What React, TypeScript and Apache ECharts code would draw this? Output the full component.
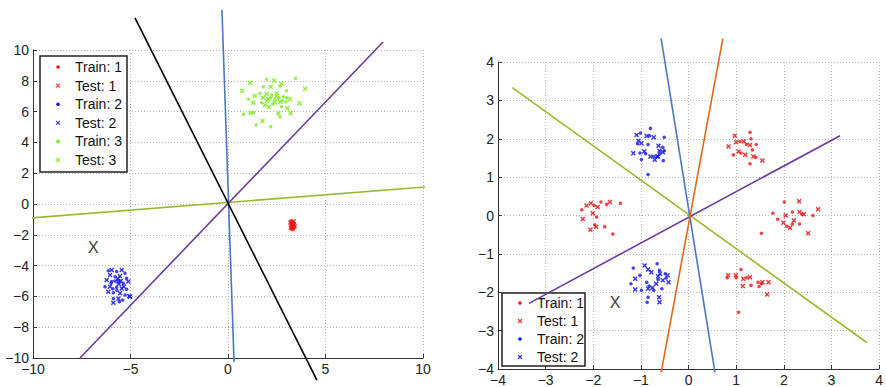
import React, { useEffect, useRef } from "react";
import * as echarts from "echarts";

// ---- colours ----
const RED = "#ee1515";
const BLUE = "#1414ee";
const GREEN = "#7ded1e";
const LINE_BLUE = "#4a78c8";
const LINE_ORANGE = "#e2681c";
const LINE_GREEN = "#9aba2c";
const LINE_PURPLE = "#6a3c9e";

// ---- left panel: three classes ----
const leftTrain1 = [[3.22, -1.1], [3.3, -1.18], [3.38, -1.25], [3.25, -1.32], [3.35, -1.4], [3.28, -1.48], [3.4, -1.55], [3.24, -1.6], [3.33, -1.65]];
const leftTest1 = [[3.2, -1.2], [3.36, -1.12], [3.27, -1.38], [3.42, -1.45], [3.22, -1.52], [3.31, -1.58], [3.38, -1.35], [3.29, -1.27]];

const leftTrain2 = [
  [-6.14, -4.33], [-5.71, -4.39], [-5.28, -4.5], [-5.79, -4.72], [-5.2, -4.83], [-5.97, -5.04], [-5.37, -5.15],
  [-6.31, -5.37], [-5.71, -5.41], [-5.2, -5.54], [-5.88, -5.76], [-5.28, -5.91], [-5.88, -6.13], [-5.4, -6.23],
  [-5.57, -6.34], [-5.8, -5.0], [-5.9, -5.5], [-5.7, -5.6], [-6.0, -5.15],
];
const leftTest2 = [
  [-5.97, -4.29], [-5.45, -4.29], [-6.05, -4.61], [-5.54, -4.68], [-6.22, -4.94], [-5.62, -5.04], [-5.11, -5.04],
  [-6.05, -5.37], [-5.45, -5.48], [-6.14, -5.69], [-5.54, -5.8], [-5.03, -6.02], [-5.62, -6.13], [-5.88, -6.41],
  [-5.06, -5.97], [-5.6, -5.2], [-5.5, -5.0], [-5.35, -5.35], [-5.65, -4.85],
];

const leftTrain3 = [
  [1.98, 8.1], [3.47, 8.16], [1.81, 7.62], [2.67, 7.66], [3.01, 7.36], [1.64, 7.19], [2.24, 7.08], [2.84, 6.97],
  [1.04, 6.82], [1.73, 6.58], [2.41, 6.8], [2.97, 6.64], [0.79, 5.82], [1.3, 5.93], [2.67, 5.67], [1.44, 5.13],
  [2.19, 5.02], [2.75, 6.32], [2.2, 6.9], [2.6, 6.9], [2.8, 6.7], [2.3, 6.5], [3.0, 6.9],
];
const leftTest3 = [
  [1.13, 7.88], [2.36, 8.01], [3.95, 7.47], [0.73, 7.36], [2.19, 7.62], [2.75, 7.79], [1.38, 7.01], [1.98, 7.14],
  [2.5, 7.19], [3.18, 6.8], [1.3, 6.58], [2.07, 6.8], [2.67, 6.64], [3.66, 6.54], [1.16, 5.93], [2.58, 5.89],
  [3.21, 5.89], [1.76, 5.39], [3.04, 6.21], [1.9, 6.43], [2.4, 6.6], [2.0, 6.7], [2.5, 7.0], [1.8, 6.9], [2.1, 6.3],
];

// decision lines through the origin (end points)
const leftLineBlack = [[-4.77, 12.08], [4.56, -11.43]];
const leftLineBlue = [[-0.31, 12.6], [0.31, -10.26]];
const leftLinePurple = [[-7.59, -10.0], [7.95, 10.52]];
const leftLineGreen = [[-10.15, -0.91], [10.72, 1.17]];

const leftQuery = [[-6.9, -2.8]];

// ---- right panel: two classes ----
const rightTrain1 = [
  // upper right
  [1.29, 2.17], [1.31, 2.0], [1.08, 1.93], [1.22, 1.85], [1.42, 1.85], [1.34, 1.71], [1.1, 1.63], [0.94, 1.58], [1.41, 1.52], [1.29, 1.35],
  // left
  [-1.84, 0.35], [-1.43, 0.32], [-1.98, 0.26], [-1.72, 0.29], [-2.24, 0.15], [-1.93, -0.04], [-1.97, -0.24], [-1.76, -0.29], [-1.59, -0.48],
  // right
  [2.01, 0.35], [1.77, 0.06], [2.18, 0.09], [2.38, 0.03], [2.61, 0.0], [1.87, -0.1], [2.06, -0.28], [2.18, -0.22], [2.33, -0.22], [1.53, -0.46],
  // lower right
  [1.1, -1.41], [0.81, -1.62], [1.0, -1.62], [1.22, -1.62], [1.46, -1.74], [1.53, -1.78], [1.48, -1.85], [1.31, -1.82], [1.05, -2.52],
];
const rightTest1 = [
  [0.97, 2.08], [1.0, 1.91], [1.16, 1.93], [1.29, 1.84], [0.84, 1.8], [1.05, 1.67], [1.19, 1.58], [1.36, 1.54], [1.55, 1.43],
  [-1.65, 0.35], [-2.05, 0.32], [-1.91, 0.22], [-2.14, 0.26], [-2.01, 0.06], [-2.22, -0.09], [-1.94, -0.29], [-2.06, -0.37],
  [2.32, 0.37], [2.04, 0.0], [2.33, 0.09], [2.42, 0.03], [2.72, 0.16], [1.99, -0.19], [2.13, -0.32], [2.21, -0.13], [2.51, -0.46],
  [0.83, -1.56], [0.99, -1.56], [1.15, -1.65], [1.29, -1.61], [1.55, -1.74], [1.68, -1.74], [1.14, -1.84], [1.65, -2.06],
];

const rightTrain2 = [
  // upper
  [-0.8, 2.27], [-1.01, 2.15], [-0.82, 2.08], [-0.51, 2.04], [-1.07, 1.87], [-0.85, 1.85], [-0.54, 1.78], [-1.02, 1.63],
  [-0.9, 1.61], [-0.73, 1.54], [-0.61, 1.61], [-0.51, 1.69], [-0.99, 1.46], [-0.53, 1.43], [-0.85, 1.07],
  // lower
  [-1.16, -1.37], [-0.66, -1.26], [-1.02, -1.56], [-0.61, -1.43], [-0.49, -1.52], [-0.47, -1.63], [-0.64, -1.67],
  [-0.88, -1.74], [-1.21, -1.78], [-0.83, -1.84], [-0.99, -1.95], [-0.56, -1.91], [-0.85, -2.13], [-0.87, -2.26], [-0.73, -1.95],
];
const rightTest2 = [
  [-1.09, 2.1], [-0.88, 2.07], [-0.73, 2.04], [-1.05, 1.95], [-0.99, 1.88], [-0.63, 1.82], [-1.16, 1.62], [-0.93, 1.67],
  [-0.8, 1.54], [-0.66, 1.54], [-0.54, 1.65], [-0.61, 1.69], [-0.71, 1.45], [-0.64, 1.54],
  [-0.92, -1.3], [-0.85, -1.41], [-0.78, -1.48], [-0.6, -1.52], [-0.44, -1.56], [-0.64, -1.58], [-1.12, -1.65],
  [-0.68, -1.78], [-0.76, -1.88], [-0.85, -1.91], [-1.12, -1.93], [-0.42, -1.74], [-0.62, -2.13], [-0.61, -2.26], [-0.54, -1.69],
];

const rightLineBlue = [[-0.575, 4.61], [0.554, -4.09]];
const rightLineOrange = [[0.72, 4.61], [-0.575, -4.09]];
const rightLineGreen = [[-3.7, 3.33], [3.74, -3.31]];
const rightLinePurple = [[-3.35, -2.29], [3.18, 2.08]];

const rightQuery = [[-1.54, -2.27]];

// ---- axis ticks ----
const leftXTicks = { min: -10, max: 10, interval: 5 };
const leftYTicks = { min: -10, max: 10, interval: 2 };
const rightXTicks = { min: -4, max: 4, interval: 1 };
const rightYTicks = { min: -4, max: 4, interval: 1 };

const legendLeftLabels = ["Train: 1", "Test: 1", "Train: 2", "Test: 2", "Train: 3", "Test: 3"];
const legendRightLabels = ["Train: 1", "Test: 1", "Train: 2", "Test: 2"];

const FONT = "Liberation Sans, Arial, Helvetica, sans-serif";
const CROSS = "path://M0,2L2,0L5,3L8,0L10,2L7,5L10,8L8,10L5,7L2,10L0,8L3,5Z";

const fmt = (v: number) => String(v).replace("-", "\u2212");

function axis(idx: number, ticks: { min: number; max: number; interval: number }) {
  return {
    type: "value",
    gridIndex: idx,
    ...ticks,
    axisLine: { show: true, onZero: false, lineStyle: { color: "#333", width: 1 } },
    axisTick: { show: true, inside: true, length: 4, lineStyle: { color: "#333" } },
    axisLabel: { fontFamily: FONT, fontSize: 14, color: "#222", margin: 4, formatter: fmt },
    splitLine: { show: true, lineStyle: { color: "#b4b4b4", type: [1, 2], width: 1 } },
  };
}

function dots(name: string, data: number[][], color: string, idx: number) {
  return {
    type: "scatter", name, data, xAxisIndex: idx, yAxisIndex: idx,
    symbol: "circle", symbolSize: 3.5, itemStyle: { color }, z: 2,
  };
}

function crosses(name: string, data: number[][], color: string, idx: number) {
  return {
    type: "scatter", name, data, xAxisIndex: idx, yAxisIndex: idx,
    symbol: CROSS, symbolSize: 5, itemStyle: { color, opacity: 0.85 }, z: 2,
  };
}

function boundary(data: number[][], color: string, idx: number) {
  return {
    type: "line", data, xAxisIndex: idx, yAxisIndex: idx, symbol: "none", clip: false,
    lineStyle: { color, width: 1.6 }, z: 4, silent: true,
  };
}

function query(data: number[][], idx: number) {
  return {
    type: "scatter", data, xAxisIndex: idx, yAxisIndex: idx, symbol: "circle", symbolSize: 1,
    itemStyle: { color: "transparent" }, z: 5,
    label: { show: true, position: "inside", formatter: "X", fontFamily: FONT, fontSize: 16, color: "#000" },
  };
}

const colorsFor = (label: string) =>
  label.endsWith("1") ? RED : label.endsWith("2") ? BLUE : GREEN;

function legendBox(x: number, y: number, w: number, h: number, labels: string[], rowTop: number, step: number, markX: number, textX: number) {
  const children: any[] = [
    { type: "rect", shape: { x, y, width: w, height: h }, style: { fill: "#fff", stroke: "#222", lineWidth: 1.5 }, z: 3 },
  ];
  labels.forEach((label, i) => {
    const cy = rowTop + i * step;
    const color = colorsFor(label);
    if (label.startsWith("Train")) {
      children.push({ type: "circle", shape: { cx: markX, cy, r: 1.8 }, style: { fill: color }, z: 3 });
    } else {
      children.push({ type: "line", shape: { x1: markX - 2, y1: cy - 2, x2: markX + 2, y2: cy + 2 }, style: { stroke: color, lineWidth: 1.2, opacity: 0.8 }, z: 3 });
      children.push({ type: "line", shape: { x1: markX - 2, y1: cy + 2, x2: markX + 2, y2: cy - 2 }, style: { stroke: color, lineWidth: 1.2, opacity: 0.8 }, z: 3 });
    }
    children.push({
      type: "text", x: textX, y: cy, z: 3,
      style: { text: label, fontFamily: FONT, fontSize: 14, fill: "#111", verticalAlign: "middle", align: "left" },
    });
  });
  return children;
}

export default function App() {
  const ref = useRef<HTMLDivElement>(null);

  useEffect(() => {
    if (!ref.current) return;
    const chart = echarts.init(ref.current, null, { renderer: "svg" });
    chart.setOption({
      animation: false,
      backgroundColor: "#fff",
      grid: [
        { left: 33, top: 50, width: 390, height: 308 },
        { left: 498, top: 62, width: 390, height: 307 },
      ],
      xAxis: [axis(0, leftXTicks), axis(1, rightXTicks)],
      yAxis: [axis(0, leftYTicks), axis(1, rightYTicks)],
      series: [
        dots("Train: 1", leftTrain1, RED, 0),
        crosses("Test: 1", leftTest1, RED, 0),
        dots("Train: 2", leftTrain2, BLUE, 0),
        crosses("Test: 2", leftTest2, BLUE, 0),
        dots("Train: 3", leftTrain3, GREEN, 0),
        crosses("Test: 3", leftTest3, GREEN, 0),
        boundary(leftLineGreen, LINE_GREEN, 0),
        boundary(leftLinePurple, LINE_PURPLE, 0),
        boundary(leftLineBlue, LINE_BLUE, 0),
        boundary(leftLineBlack, "#000", 0),
        query(leftQuery, 0),

        dots("Train: 1", rightTrain1, RED, 1),
        crosses("Test: 1", rightTest1, RED, 1),
        dots("Train: 2", rightTrain2, BLUE, 1),
        crosses("Test: 2", rightTest2, BLUE, 1),
        boundary(rightLineGreen, LINE_GREEN, 1),
        boundary(rightLinePurple, LINE_PURPLE, 1),
        boundary(rightLineBlue, LINE_BLUE, 1),
        boundary(rightLineOrange, LINE_ORANGE, 1),
        query(rightQuery, 1),
      ],
      graphic: [
        ...legendBox(40, 56, 87, 116, legendLeftLabels, 67, 18.6, 58, 75),
        ...legendBox(502, 293, 83, 73, legendRightLabels, 303, 18, 520, 537),
      ],
    });
    return () => chart.dispose();
  }, []);

  return (
    <div
      ref={ref}
      style={{ position: "absolute", left: 0, top: 0, width: 886, height: 387 }}
    />
  );
}
